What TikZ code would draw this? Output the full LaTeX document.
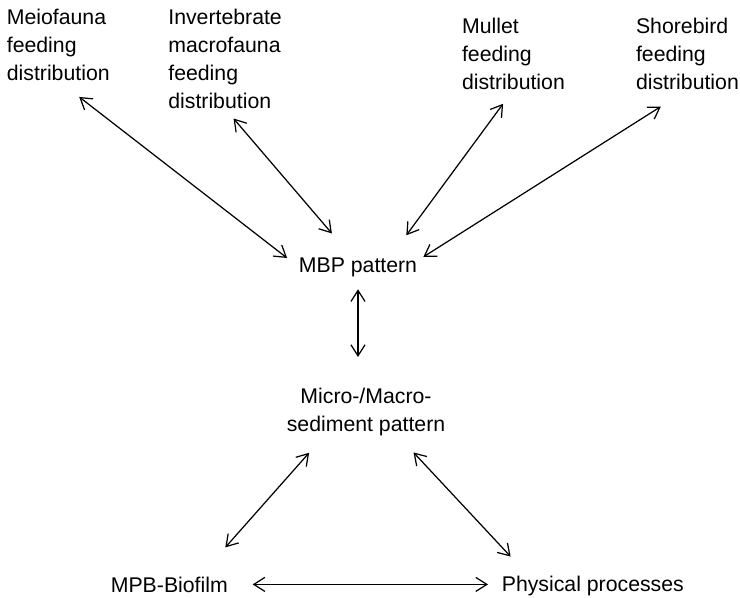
\documentclass[tikz,border=0pt]{standalone}
\usepackage{fontspec}
\setmainfont{Liberation Sans}
\usetikzlibrary{arrows.meta}

\begin{document}
\begin{tikzpicture}[
    txt/.style={inner sep=0pt, font=\fontsize{12.1}{15.9}\selectfont},
    link/.style={{Straight Barb[length=6.3pt,width=8pt]}-{Straight Barb[length=6.3pt,width=8pt]}, line width=0.7pt}
  ]
    \useasboundingbox (0,0) rectangle (14.8,11.94);
    % feeding distributions along the top
    \node[txt,align=left,anchor=north west] (meio) at (0.13,11.77) {Meiofauna\\feeding\\distribution};
    \node[txt,align=left,anchor=north west] (invert) at (3.36,11.77) {Invertebrate\\macrofauna\\feeding\\distribution};
    \node[txt,align=left,anchor=north west] (mullet) at (9.234,11.59) {Mullet\\feeding\\distribution};
    \node[txt,align=left,anchor=north west] (shore) at (12.714,11.59) {Shorebird\\feeding\\distribution};
    \node[txt,anchor=base] (mbp) at (7.16,6.5) {MBP pattern};
    \node[txt,align=center,anchor=north] (sed) at (7.32,4.19) {Micro-/Macro-\\sediment pattern};
    \node[txt,anchor=base west] (mpb) at (2.21,0.1) {MPB-Biofilm};
    \node[txt,anchor=base west] (phys) at (10.03,0.12) {Physical processes};
    % links
    \draw[link, shorten <=0.53cm, shorten >=0.29cm] (meio.south) -- (mbp.west);
    \draw[link, shorten <=0.26cm, shorten >=0.62cm] (invert.south) -- (mbp.121);
    \draw[link, shorten <=0.35cm, shorten >=0.54cm] (mullet.south) -- (mbp.17);
    \draw[link, shorten <=0.63cm, shorten >=0.14cm] (shore.south) -- (mbp.6);
    \draw[link, shorten <=0.25cm, shorten >=0.61cm] (mbp.south) -- (mbp.south |- sed.north);
    \draw[link, shorten <=0.45cm, shorten >=0.77cm] (sed.210) -- (mpb.15);
    \draw[link, shorten <=0.45cm, shorten >=0.51cm] (sed.-37) -- (phys.171);
    \draw[link, shorten <=0.49cm, shorten >=0.27cm] (mpb.east) -- (mpb.east -| phys.west);
\end{tikzpicture}
\end{document}
